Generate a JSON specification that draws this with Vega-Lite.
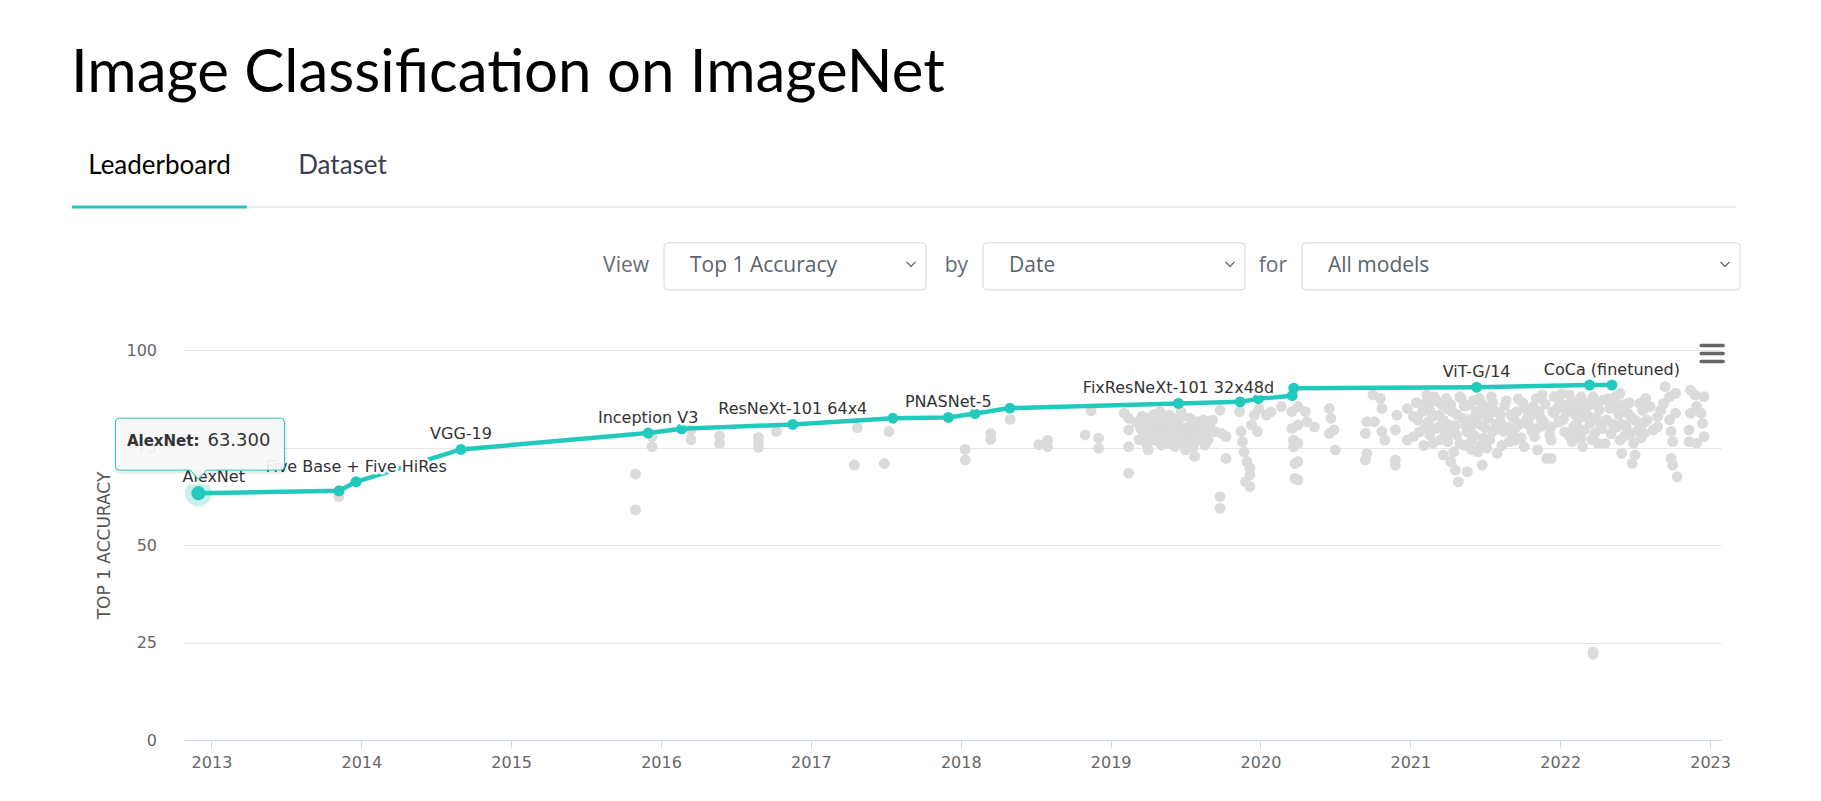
{
  "$schema": "https://vega.github.io/schema/vega-lite/v6.json",
  "autosize": {"type": "pad"},
  "padding": {"left": 65, "top": 44, "right": 81, "bottom": 20},
  "background": "white",
  "title": {"text": "Image Classification on ImageNet", "anchor": "start", "frame": "group", "font": "Lato", "fontSize": 60, "fontWeight": 400, "color": "#000000", "dx": -112, "offset": -2, "baseline": "alphabetic"},
  "config": {"view": {"stroke": null}, "font": "DejaVu Sans"},
  "datasets": {
    "tabs": [
      {"tab": "Leaderboard", "active": true},
      {"tab": "Dataset", "active": false}
    ],
    "controls": [
      {"label": "View", "value": "Top 1 Accuracy"},
      {"label": "by", "value": "Date"},
      {"label": "for", "value": "All models"}
    ],
    "sota": [
      {"year": 2012.913, "acc": 63.3, "label": "AlexNet"},
      {"year": 2013.851, "acc": 63.9},
      {"year": 2013.965, "acc": 66.2, "label": "Five Base + Five HiRes"},
      {"year": 2014.665, "acc": 74.5, "label": "VGG-19"},
      {"year": 2015.914, "acc": 78.7, "label": "Inception V3"},
      {"year": 2016.137, "acc": 79.8},
      {"year": 2016.879, "acc": 80.9, "label": "ResNeXt-101 64x4"},
      {"year": 2017.547, "acc": 82.5},
      {"year": 2017.917, "acc": 82.7, "label": "PNASNet-5"},
      {"year": 2018.095, "acc": 83.7},
      {"year": 2018.328, "acc": 85.1},
      {"year": 2019.453, "acc": 86.3, "label": "FixResNeXt-101 32x48d"},
      {"year": 2019.865, "acc": 86.7},
      {"year": 2019.985, "acc": 87.5},
      {"year": 2020.212, "acc": 88.3},
      {"year": 2020.222, "acc": 90.2},
      {"year": 2021.442, "acc": 90.45, "label": "ViT-G/14"},
      {"year": 2022.196, "acc": 91.0},
      {"year": 2022.345, "acc": 91.0, "label": "CoCa (finetuned)"}
    ],
    "others": [
      {"year": 2013.85, "acc": 62.4}, {"year": 2015.83, "acc": 68.2}, {"year": 2015.83, "acc": 59.0},
      {"year": 2015.94, "acc": 77.8}, {"year": 2015.94, "acc": 75.2}, {"year": 2016.2, "acc": 79.5},
      {"year": 2016.2, "acc": 77.0},
      {"year": 2016.39, "acc": 77.9}, {"year": 2016.39, "acc": 76.0}, {"year": 2016.65, "acc": 77.6},
      {"year": 2016.65, "acc": 76.4}, {"year": 2016.65, "acc": 75.0}, {"year": 2016.77, "acc": 79.1},
      {"year": 2017.29, "acc": 70.5}, {"year": 2017.31, "acc": 80.1}, {"year": 2017.49, "acc": 70.9},
      {"year": 2017.52, "acc": 79.1}, {"year": 2018.03, "acc": 74.5}, {"year": 2018.03, "acc": 71.8},
      {"year": 2018.2, "acc": 78.6}, {"year": 2018.2, "acc": 77.1}, {"year": 2018.33, "acc": 82.2},
      {"year": 2018.52, "acc": 75.7},
      {"year": 2018.58, "acc": 76.9}, {"year": 2018.58, "acc": 75.2}, {"year": 2018.83, "acc": 78.2},
      {"year": 2018.87, "acc": 84.4}, {"year": 2018.92, "acc": 77.4}, {"year": 2018.92, "acc": 74.8},
      {"year": 2019.09, "acc": 83.8}, {"year": 2019.12, "acc": 82.5}, {"year": 2019.12, "acc": 79.5},
      {"year": 2019.12, "acc": 75.2}, {"year": 2019.12, "acc": 68.4}, {"year": 2019.2, "acc": 79.9},
      {"year": 2019.22, "acc": 78.6}, {"year": 2019.25, "acc": 82.5}, {"year": 2019.27, "acc": 77.4},
      {"year": 2019.25, "acc": 74.4}, {"year": 2019.3, "acc": 81.6}, {"year": 2019.32, "acc": 79.5},
      {"year": 2019.33, "acc": 84.2}, {"year": 2019.34, "acc": 75.6}, {"year": 2019.37, "acc": 80.8},
      {"year": 2019.39, "acc": 83.3}, {"year": 2019.4, "acc": 78.2}, {"year": 2019.42, "acc": 82.5},
      {"year": 2019.43, "acc": 75.2}, {"year": 2019.44, "acc": 79.9}, {"year": 2019.47, "acc": 84.2},
      {"year": 2019.48, "acc": 76.5}, {"year": 2019.5, "acc": 74.4}, {"year": 2019.52, "acc": 78.2},
      {"year": 2019.56, "acc": 78.6}, {"year": 2019.56, "acc": 72.7}, {"year": 2019.58, "acc": 81.6},
      {"year": 2019.6, "acc": 79.9}, {"year": 2019.62, "acc": 82.1}, {"year": 2019.63, "acc": 75.6},
      {"year": 2019.64, "acc": 78.2}, {"year": 2019.66, "acc": 80.3}, {"year": 2019.73, "acc": 84.6},
      {"year": 2019.74, "acc": 78.6}, {"year": 2019.77, "acc": 77.8}, {"year": 2019.77, "acc": 72.2},
      {"year": 2019.73, "acc": 62.4}, {"year": 2019.73, "acc": 59.4}, {"year": 2019.86, "acc": 84.2},
      {"year": 2019.87, "acc": 79.1}, {"year": 2019.88, "acc": 76.5}, {"year": 2019.89, "acc": 73.9},
      {"year": 2019.91, "acc": 71.4}, {"year": 2019.93, "acc": 69.7}, {"year": 2019.93, "acc": 68.0},
      {"year": 2019.9, "acc": 66.2}, {"year": 2019.93, "acc": 65.0}, {"year": 2019.94, "acc": 80.8},
      {"year": 2019.96, "acc": 83.3}, {"year": 2019.98, "acc": 79.1}, {"year": 2019.99, "acc": 85.0},
      {"year": 2020.04, "acc": 83.3}, {"year": 2020.07, "acc": 84.2}, {"year": 2020.14, "acc": 85.5},
      {"year": 2020.21, "acc": 84.2}, {"year": 2020.21, "acc": 79.9}, {"year": 2020.22, "acc": 76.9},
      {"year": 2020.22, "acc": 75.2}, {"year": 2020.23, "acc": 70.9}, {"year": 2020.23, "acc": 67.1},
      {"year": 2019.23, "acc": 80.5}, {"year": 2019.28, "acc": 79.0}, {"year": 2019.35, "acc": 77.5},
      {"year": 2019.38, "acc": 79.0}, {"year": 2019.45, "acc": 81.0}, {"year": 2019.5, "acc": 80.0},
      {"year": 2019.53, "acc": 82.5}, {"year": 2019.46, "acc": 77.8}, {"year": 2019.41, "acc": 76.5},
      {"year": 2019.3, "acc": 76.8}, {"year": 2019.57, "acc": 76.6}, {"year": 2019.61, "acc": 77.5},
      {"year": 2019.17, "acc": 81.5}, {"year": 2019.19, "acc": 77.0}, {"year": 2019.21, "acc": 83.0},
      {"year": 2019.24, "acc": 76.0}, {"year": 2019.26, "acc": 80.0}, {"year": 2019.29, "acc": 83.5},
      {"year": 2019.31, "acc": 78.0}, {"year": 2019.33, "acc": 81.0}, {"year": 2019.36, "acc": 82.5},
      {"year": 2019.39, "acc": 76.0}, {"year": 2019.41, "acc": 80.0}, {"year": 2019.44, "acc": 77.5},
      {"year": 2019.48, "acc": 83.0}, {"year": 2019.49, "acc": 79.0}, {"year": 2019.51, "acc": 76.5},
      {"year": 2019.54, "acc": 80.5}, {"year": 2019.55, "acc": 75.0}, {"year": 2019.59, "acc": 78.0},
      {"year": 2019.62, "acc": 80.0}, {"year": 2019.65, "acc": 77.0}, {"year": 2019.68, "acc": 82.0},
      {"year": 2019.7, "acc": 79.0},
      {"year": 2020.25, "acc": 85.5}, {"year": 2020.25, "acc": 80.8}, {"year": 2020.25, "acc": 76.1},
      {"year": 2020.25, "acc": 71.4}, {"year": 2020.25, "acc": 66.7}, {"year": 2020.3, "acc": 84.2},
      {"year": 2020.31, "acc": 81.6}, {"year": 2020.36, "acc": 80.3}, {"year": 2020.46, "acc": 85.0},
      {"year": 2020.47, "acc": 82.5}, {"year": 2020.49, "acc": 79.5}, {"year": 2020.46, "acc": 78.6},
      {"year": 2020.5, "acc": 74.4}, {"year": 2020.7, "acc": 71.8}, {"year": 2020.71, "acc": 73.5},
      {"year": 2020.7, "acc": 78.6}, {"year": 2020.71, "acc": 81.6}, {"year": 2020.76, "acc": 81.6},
      {"year": 2020.81, "acc": 79.1}, {"year": 2020.83, "acc": 76.9}, {"year": 2020.9, "acc": 79.5},
      {"year": 2020.9, "acc": 71.8}, {"year": 2020.9, "acc": 70.5}, {"year": 2020.75, "acc": 88.5},
      {"year": 2020.8, "acc": 87.6}, {"year": 2020.81, "acc": 85.0}, {"year": 2020.91, "acc": 83.3},
      {"year": 2020.98, "acc": 85.0}, {"year": 2020.98, "acc": 76.9}, {"year": 2021.02, "acc": 77.8},
      {"year": 2021.08, "acc": 84.2}, {"year": 2021.1, "acc": 86.3}, {"year": 2021.11, "acc": 88.5},
      {"year": 2021.12, "acc": 81.6}, {"year": 2021.13, "acc": 78.2}, {"year": 2021.15, "acc": 76.1},
      {"year": 2021.17, "acc": 79.9}, {"year": 2021.19, "acc": 83.3}, {"year": 2021.21, "acc": 85.9},
      {"year": 2021.22, "acc": 73.1}, {"year": 2021.24, "acc": 87.6}, {"year": 2021.25, "acc": 76.5},
      {"year": 2021.26, "acc": 80.8}, {"year": 2021.27, "acc": 71.4}, {"year": 2021.28, "acc": 84.2},
      {"year": 2021.29, "acc": 73.9}, {"year": 2021.3, "acc": 69.2}, {"year": 2021.31, "acc": 78.2},
      {"year": 2021.32, "acc": 66.2}, {"year": 2021.34, "acc": 87.6}, {"year": 2021.35, "acc": 82.5},
      {"year": 2021.36, "acc": 75.6}, {"year": 2021.38, "acc": 68.8}, {"year": 2021.39, "acc": 85.9},
      {"year": 2021.4, "acc": 79.9}, {"year": 2021.41, "acc": 76.9}, {"year": 2021.44, "acc": 84.2},
      {"year": 2021.45, "acc": 73.9}, {"year": 2021.46, "acc": 87.6}, {"year": 2021.47, "acc": 80.8},
      {"year": 2021.48, "acc": 70.5}, {"year": 2021.49, "acc": 77.4}, {"year": 2021.5, "acc": 85.0},
      {"year": 2021.51, "acc": 74.8}, {"year": 2021.52, "acc": 82.5}, {"year": 2021.55, "acc": 79.1},
      {"year": 2021.57, "acc": 84.2}, {"year": 2021.58, "acc": 73.5}, {"year": 2021.6, "acc": 81.6},
      {"year": 2021.62, "acc": 79.1}, {"year": 2021.66, "acc": 76.5}, {"year": 2021.69, "acc": 82.5},
      {"year": 2021.7, "acc": 76.9}, {"year": 2021.71, "acc": 84.2}, {"year": 2021.76, "acc": 75.2},
      {"year": 2021.77, "acc": 85.0}, {"year": 2021.79, "acc": 80.8}, {"year": 2021.81, "acc": 79.1},
      {"year": 2021.84, "acc": 87.6}, {"year": 2021.85, "acc": 74.4}, {"year": 2021.86, "acc": 84.2},
      {"year": 2021.88, "acc": 88.5}, {"year": 2021.89, "acc": 81.6}, {"year": 2021.91, "acc": 72.2},
      {"year": 2021.93, "acc": 78.2}, {"year": 2021.95, "acc": 84.2},
      {"year": 2021.12, "acc": 86.0}, {"year": 2021.15, "acc": 83.0}, {"year": 2021.18, "acc": 86.8},
      {"year": 2021.22, "acc": 82.0}, {"year": 2021.25, "acc": 84.8}, {"year": 2021.28, "acc": 78.8},
      {"year": 2021.3, "acc": 80.6}, {"year": 2021.33, "acc": 76.0}, {"year": 2021.36, "acc": 85.6},
      {"year": 2021.38, "acc": 79.0}, {"year": 2021.4, "acc": 82.2}, {"year": 2021.42, "acc": 87.0},
      {"year": 2021.43, "acc": 78.0}, {"year": 2021.46, "acc": 83.5}, {"year": 2021.48, "acc": 86.0},
      {"year": 2021.5, "acc": 80.0}, {"year": 2021.53, "acc": 77.0}, {"year": 2021.55, "acc": 86.5},
      {"year": 2021.58, "acc": 79.8}, {"year": 2021.6, "acc": 83.4}, {"year": 2021.63, "acc": 85.8},
      {"year": 2021.65, "acc": 80.2}, {"year": 2021.68, "acc": 78.6}, {"year": 2021.73, "acc": 81.0},
      {"year": 2021.75, "acc": 86.5}, {"year": 2021.8, "acc": 83.0}, {"year": 2021.83, "acc": 77.8},
      {"year": 2021.88, "acc": 80.5}, {"year": 2021.9, "acc": 86.2}, {"year": 2021.2, "acc": 77.0},
      {"year": 2021.1, "acc": 80.0}, {"year": 2021.05, "acc": 82.0},
      {"year": 2021.02, "acc": 83.0}, {"year": 2021.04, "acc": 86.5}, {"year": 2021.06, "acc": 79.0},
      {"year": 2021.09, "acc": 75.5}, {"year": 2021.13, "acc": 84.5}, {"year": 2021.16, "acc": 88.0},
      {"year": 2021.2, "acc": 80.5}, {"year": 2021.23, "acc": 79.0}, {"year": 2021.27, "acc": 86.0},
      {"year": 2021.31, "acc": 83.5}, {"year": 2021.33, "acc": 88.0}, {"year": 2021.37, "acc": 80.5},
      {"year": 2021.41, "acc": 74.5}, {"year": 2021.44, "acc": 81.5}, {"year": 2021.47, "acc": 75.5},
      {"year": 2021.52, "acc": 84.0}, {"year": 2021.54, "acc": 88.0}, {"year": 2021.57, "acc": 81.0},
      {"year": 2021.61, "acc": 75.5}, {"year": 2021.64, "acc": 87.0}, {"year": 2021.67, "acc": 83.5},
      {"year": 2021.7, "acc": 80.0}, {"year": 2021.72, "acc": 87.5}, {"year": 2021.74, "acc": 77.5},
      {"year": 2021.78, "acc": 82.5}, {"year": 2021.82, "acc": 85.5}, {"year": 2021.85, "acc": 80.0},
      {"year": 2021.87, "acc": 82.5},
      {"year": 2021.96, "acc": 88.0}, {"year": 2021.96, "acc": 83.8}, {"year": 2021.94, "acc": 80.3},
      {"year": 2021.94, "acc": 76.9}, {"year": 2021.94, "acc": 72.2}, {"year": 2022.0, "acc": 86.3},
      {"year": 2022.02, "acc": 82.1}, {"year": 2022.06, "acc": 88.5}, {"year": 2022.07, "acc": 84.6},
      {"year": 2022.09, "acc": 80.3}, {"year": 2022.14, "acc": 88.0}, {"year": 2022.15, "acc": 82.9},
      {"year": 2022.14, "acc": 77.4}, {"year": 2022.15, "acc": 75.2}, {"year": 2022.18, "acc": 86.3},
      {"year": 2022.2, "acc": 81.2}, {"year": 2022.23, "acc": 78.6}, {"year": 2022.25, "acc": 76.1},
      {"year": 2022.26, "acc": 84.6}, {"year": 2022.29, "acc": 87.2}, {"year": 2022.31, "acc": 82.1},
      {"year": 2022.36, "acc": 85.5}, {"year": 2022.38, "acc": 80.3}, {"year": 2022.4, "acc": 88.9},
      {"year": 2022.4, "acc": 76.9}, {"year": 2022.41, "acc": 73.5}, {"year": 2022.45, "acc": 83.8},
      {"year": 2022.47, "acc": 78.6}, {"year": 2022.49, "acc": 76.1}, {"year": 2022.48, "acc": 70.9},
      {"year": 2022.5, "acc": 73.1}, {"year": 2022.53, "acc": 86.3}, {"year": 2022.55, "acc": 81.2},
      {"year": 2022.57, "acc": 87.6}, {"year": 2022.56, "acc": 78.6}, {"year": 2022.65, "acc": 82.9},
      {"year": 2022.65, "acc": 80.3}, {"year": 2022.7, "acc": 90.6}, {"year": 2022.73, "acc": 88.0},
      {"year": 2022.69, "acc": 86.3}, {"year": 2022.73, "acc": 82.1}, {"year": 2022.74, "acc": 79.1},
      {"year": 2022.75, "acc": 76.5}, {"year": 2022.74, "acc": 72.2}, {"year": 2022.75, "acc": 70.5},
      {"year": 2022.78, "acc": 67.5}, {"year": 2022.77, "acc": 88.9}, {"year": 2022.77, "acc": 83.8},
      {"year": 2022.87, "acc": 89.7}, {"year": 2022.87, "acc": 83.8}, {"year": 2022.86, "acc": 79.5},
      {"year": 2022.86, "acc": 76.5}, {"year": 2022.9, "acc": 88.5}, {"year": 2022.91, "acc": 85.5},
      {"year": 2022.91, "acc": 76.1}, {"year": 2022.95, "acc": 81.2}, {"year": 2022.96, "acc": 77.8},
      {"year": 2022.96, "acc": 88.0}, {"year": 2022.94, "acc": 83.8},
      {"year": 2021.98, "acc": 85.0}, {"year": 2022.03, "acc": 79.0}, {"year": 2022.05, "acc": 86.0},
      {"year": 2022.1, "acc": 83.5}, {"year": 2022.12, "acc": 78.5}, {"year": 2022.17, "acc": 84.0},
      {"year": 2022.22, "acc": 88.0}, {"year": 2022.24, "acc": 82.5}, {"year": 2022.28, "acc": 79.8},
      {"year": 2022.33, "acc": 85.0}, {"year": 2022.35, "acc": 81.0}, {"year": 2022.42, "acc": 86.0},
      {"year": 2022.44, "acc": 80.5}, {"year": 2022.47, "acc": 83.0}, {"year": 2022.52, "acc": 79.5},
      {"year": 2022.08, "acc": 76.5}, {"year": 2022.3, "acc": 76.0}, {"year": 2022.12, "acc": 87.0},
      {"year": 2022.37, "acc": 88.0}, {"year": 2022.43, "acc": 78.0}, {"year": 2022.55, "acc": 84.5},
      {"year": 2022.58, "acc": 82.0}, {"year": 2022.2, "acc": 86.0},
      {"year": 2021.99, "acc": 81.5}, {"year": 2022.01, "acc": 88.8}, {"year": 2022.04, "acc": 84.0},
      {"year": 2022.06, "acc": 78.0}, {"year": 2022.09, "acc": 86.0}, {"year": 2022.11, "acc": 81.0},
      {"year": 2022.13, "acc": 85.0}, {"year": 2022.16, "acc": 79.5}, {"year": 2022.19, "acc": 83.0},
      {"year": 2022.21, "acc": 77.0}, {"year": 2022.25, "acc": 86.5}, {"year": 2022.27, "acc": 80.5},
      {"year": 2022.32, "acc": 87.5}, {"year": 2022.34, "acc": 78.5}, {"year": 2022.39, "acc": 83.5},
      {"year": 2022.41, "acc": 81.0}, {"year": 2022.46, "acc": 86.5}, {"year": 2022.5, "acc": 82.0},
      {"year": 2022.54, "acc": 77.5}, {"year": 2022.6, "acc": 85.5}, {"year": 2022.62, "acc": 79.5},
      {"year": 2022.67, "acc": 84.5},
      {"year": 2022.22, "acc": 22.0}, {"year": 2022.22, "acc": 22.6}
    ]
  },
  "vconcat": [
    {
      "width": 1557,
      "height": 140,
      "layer": [
        {
          "data": {"name": "tabs"},
          "transform": [{"filter": "datum.active"}],
          "mark": {"type": "point", "shape": "M-87.5,41 H1576.5", "size": 4, "filled": false, "stroke": "#e3e3ea", "strokeWidth": 1.5, "opacity": 1},
          "encoding": {
            "x": {"field": "tab", "type": "nominal", "scale": {"type": "point", "domain": ["Leaderboard", "Dataset"], "range": [-23.5, 159.5], "padding": 0}, "axis": null},
            "y": {"datum": "tabs", "type": "nominal", "scale": {"type": "point", "domain": ["tabs", "controls"], "range": [16, 116.4], "padding": 0}, "axis": null}
          }
        },
        {
          "data": {"name": "tabs"},
          "transform": [{"filter": "datum.active"}],
          "mark": {"type": "point", "shape": "M-87.5,41 H87.5", "size": 4, "filled": false, "stroke": "#22c9bd", "strokeWidth": 3.2, "opacity": 1},
          "encoding": {
            "x": {"field": "tab", "type": "nominal", "scale": {"type": "point", "domain": ["Leaderboard", "Dataset"], "range": [-23.5, 159.5], "padding": 0}, "axis": null},
            "y": {"datum": "tabs", "type": "nominal", "scale": {"type": "point", "domain": ["tabs", "controls"], "range": [16, 116.4], "padding": 0}, "axis": null}
          }
        },
        {
          "data": {"name": "tabs"},
          "mark": {"type": "text", "font": "Lato", "fontSize": 26, "align": "center", "baseline": "middle"},
          "encoding": {
            "x": {"field": "tab", "type": "nominal", "scale": {"type": "point", "domain": ["Leaderboard", "Dataset"], "range": [-23.5, 159.5], "padding": 0}, "axis": null},
            "y": {"datum": "tabs", "type": "nominal", "scale": {"type": "point", "domain": ["tabs", "controls"], "range": [16, 116.4], "padding": 0}, "axis": null},
            "text": {"field": "tab"},
            "color": {"condition": {"test": "datum.active", "value": "#000000"}, "value": "#3c3c50"}
          }
        },
        {
          "data": {"name": "controls"},
          "transform": [{"filter": "datum.value != 'All models'"}],
          "mark": {"type": "point", "shape": "M4,-23.5 H258 Q262,-23.5 262,-19.5 V19.5 Q262,23.5 258,23.5 H4 Q0,23.5 0,19.5 V-19.5 Q0,-23.5 4,-23.5 Z", "size": 4, "filled": false, "stroke": "#d3d6db", "strokeWidth": 1, "opacity": 1},
          "encoding": {
            "x": {"field": "value", "type": "nominal", "scale": {"type": "point", "domain": ["Top 1 Accuracy", "Date", "All models"], "range": [481, 1119], "padding": 0}, "axis": null},
            "y": {"datum": "controls", "type": "nominal", "scale": {"type": "point", "domain": ["tabs", "controls"], "range": [16, 116.4], "padding": 0}, "axis": null}
          }
        },
        {
          "data": {"name": "controls"},
          "transform": [{"filter": "datum.value == 'All models'"}],
          "mark": {"type": "point", "shape": "M4,-23.5 H434 Q438,-23.5 438,-19.5 V19.5 Q438,23.5 434,23.5 H4 Q0,23.5 0,19.5 V-19.5 Q0,-23.5 4,-23.5 Z", "size": 4, "filled": false, "stroke": "#d3d6db", "strokeWidth": 1, "opacity": 1},
          "encoding": {
            "x": {"field": "value", "type": "nominal", "scale": {"type": "point", "domain": ["Top 1 Accuracy", "Date", "All models"], "range": [481, 1119], "padding": 0}, "axis": null},
            "y": {"datum": "controls", "type": "nominal", "scale": {"type": "point", "domain": ["tabs", "controls"], "range": [16, 116.4], "padding": 0}, "axis": null}
          }
        },
        {
          "data": {"name": "controls"},
          "transform": [{"filter": "datum.value != 'All models'"}],
          "mark": {"type": "point", "shape": "M242.5,-4.5 L247,0 L251.5,-4.5", "size": 4, "filled": false, "stroke": "#555b62", "strokeWidth": 1.3, "opacity": 1},
          "encoding": {
            "x": {"field": "value", "type": "nominal", "scale": {"type": "point", "domain": ["Top 1 Accuracy", "Date", "All models"], "range": [481, 1119], "padding": 0}, "axis": null},
            "y": {"datum": "controls", "type": "nominal", "scale": {"type": "point", "domain": ["tabs", "controls"], "range": [16, 116.4], "padding": 0}, "axis": null}
          }
        },
        {
          "data": {"name": "controls"},
          "transform": [{"filter": "datum.value == 'All models'"}],
          "mark": {"type": "point", "shape": "M418.5,-4.5 L423,0 L427.5,-4.5", "size": 4, "filled": false, "stroke": "#555b62", "strokeWidth": 1.3, "opacity": 1},
          "encoding": {
            "x": {"field": "value", "type": "nominal", "scale": {"type": "point", "domain": ["Top 1 Accuracy", "Date", "All models"], "range": [481, 1119], "padding": 0}, "axis": null},
            "y": {"datum": "controls", "type": "nominal", "scale": {"type": "point", "domain": ["tabs", "controls"], "range": [16, 116.4], "padding": 0}, "axis": null}
          }
        },
        {
          "data": {"name": "controls"},
          "mark": {"type": "text", "font": "Open Sans", "fontSize": 21, "align": "right", "baseline": "middle", "dx": -15, "color": "#656d76"},
          "encoding": {
            "x": {"field": "value", "type": "nominal", "scale": {"type": "point", "domain": ["Top 1 Accuracy", "Date", "All models"], "range": [481, 1119], "padding": 0}, "axis": null},
            "y": {"datum": "controls", "type": "nominal", "scale": {"type": "point", "domain": ["tabs", "controls"], "range": [16, 116.4], "padding": 0}, "axis": null},
            "text": {"field": "label"}
          }
        },
        {
          "data": {"name": "controls"},
          "mark": {"type": "text", "font": "Open Sans", "fontSize": 21, "align": "left", "baseline": "middle", "dx": 26, "color": "#5a626b"},
          "encoding": {
            "x": {"field": "value", "type": "nominal", "scale": {"type": "point", "domain": ["Top 1 Accuracy", "Date", "All models"], "range": [481, 1119], "padding": 0}, "axis": null},
            "y": {"datum": "controls", "type": "nominal", "scale": {"type": "point", "domain": ["tabs", "controls"], "range": [16, 116.4], "padding": 0}, "axis": null},
            "text": {"field": "value"}
          }
        }
      ],
      "resolve": {"scale": {"x": "independent"}}
    },
    {
      "width": 1538,
      "height": 390,
      "encoding": {
        "x": {
          "field": "year", "type": "quantitative",
          "scale": {"domain": [2012.81, 2023.073], "nice": false, "zero": false},
          "axis": {"values": [2013, 2014, 2015, 2016, 2017, 2018, 2019, 2020, 2021, 2022, 2023], "format": "d", "grid": false, "domainColor": "#ccd6eb", "tickColor": "#ccd6eb", "tickSize": 8, "labelPadding": 6, "labelFont": "DejaVu Sans", "labelFontSize": 16, "labelColor": "#666666", "labelFlush": false, "title": null}
        },
        "y": {
          "field": "acc", "type": "quantitative",
          "scale": {"domain": [0, 100], "nice": false},
          "axis": {"values": [0, 25, 50, 75, 100], "grid": true, "gridColor": "#e6e6e6", "domain": false, "ticks": false, "labelPadding": 26.5, "labelFont": "DejaVu Sans", "labelFontSize": 16, "labelColor": "#666666", "title": "TOP 1 ACCURACY", "titleFont": "DejaVu Sans", "titleFontSize": 17, "titleFontWeight": "normal", "titleColor": "#555555", "titlePadding": 12.5}
        }
      },
      "layer": [
        {"data": {"name": "others"}, "mark": {"type": "circle", "size": 118, "color": "#dbdbdb", "opacity": 1}},
        {"data": {"name": "sota"}, "mark": {"type": "line", "color": "#22c9bd", "strokeWidth": 4.5}, "encoding": {"order": {"field": "year"}}},
        {"data": {"name": "sota"}, "mark": {"type": "circle", "size": 120, "color": "#22c9bd", "opacity": 1}},
        {"data": {"name": "sota"}, "transform": [{"filter": "datum.label == 'AlexNet'"}], "mark": {"type": "circle", "size": 700, "color": "#22c9bd", "opacity": 0.25}},
        {"data": {"name": "sota"}, "transform": [{"filter": "datum.label == 'AlexNet'"}], "mark": {"type": "circle", "size": 200, "color": "#22c9bd", "opacity": 1}},
        {"data": {"name": "sota"}, "transform": [{"filter": "datum.label && datum.label != 'AlexNet'"}], "mark": {"type": "text", "fontSize": 16, "baseline": "middle", "dy": -15, "fill": "white", "stroke": "white", "strokeWidth": 5, "strokeJoin": "round"}, "encoding": {"text": {"field": "label"}}},
        {"data": {"name": "sota"}, "transform": [{"filter": "datum.label && datum.label != 'AlexNet'"}], "mark": {"type": "text", "fontSize": 16, "baseline": "middle", "dy": -15, "fill": "#333333"}, "encoding": {"text": {"field": "label"}}},
        {"data": {"name": "sota"}, "transform": [{"filter": "datum.label == 'AlexNet'"}], "mark": {"type": "text", "fontSize": 16, "align": "left", "baseline": "middle", "dx": -16, "dy": -16, "fill": "white", "stroke": "white", "strokeWidth": 5, "strokeJoin": "round"}, "encoding": {"text": {"field": "label"}}},
        {"data": {"name": "sota"}, "transform": [{"filter": "datum.label == 'AlexNet'"}], "mark": {"type": "text", "fontSize": 16, "align": "left", "baseline": "middle", "dx": -16, "dy": -16, "fill": "#333333"}, "encoding": {"text": {"field": "label"}}},
        {"data": {"name": "sota"}, "transform": [{"filter": "datum.label == 'AlexNet'"}], "mark": {"type": "point", "shape": "M-78,-73 H83 Q87,-73 87,-69 V-25 Q87,-21 83,-21 H9 L1,-12 L-7,-21 H-78 Q-82,-21 -82,-25 V-69 Q-82,-73 -78,-73 Z", "size": 4, "filled": false, "stroke": "#000000", "strokeOpacity": 0.08, "strokeWidth": 3, "opacity": 1}},
        {"data": {"name": "sota"}, "transform": [{"filter": "datum.label == 'AlexNet'"}], "mark": {"type": "point", "shape": "M-79,-75 H82 Q86,-75 86,-71 V-27 Q86,-23 82,-23 H8 L0,-14 L-8,-23 H-79 Q-83,-23 -83,-27 V-71 Q-83,-75 -79,-75 Z", "size": 4, "filled": true, "fill": "#f7f7f7", "fillOpacity": 0.92, "stroke": "#22c9bd", "strokeWidth": 1, "opacity": 1}},
        {"data": {"name": "sota"}, "transform": [{"filter": "datum.label == 'AlexNet'"}], "mark": {"type": "text", "fontSize": 15, "fontWeight": "bold", "align": "left", "baseline": "middle", "dx": -71.5, "dy": -52, "fill": "#333333", "text": {"expr": "datum.label + ':'"}}},
        {"data": {"name": "sota"}, "transform": [{"filter": "datum.label == 'AlexNet'"}], "mark": {"type": "text", "fontSize": 18, "align": "left", "baseline": "middle", "dx": 9, "dy": -52, "fill": "#333333"}, "encoding": {"text": {"field": "acc", "format": ".3f"}}},
        {"data": {"name": "sota"}, "transform": [{"filter": "datum.label == 'CoCa (finetuned)'"}], "mark": {"type": "point", "shape": "M-11,-8 H11 M-11,0 H11 M-11,8 H11", "size": 4, "filled": false, "stroke": "#666666", "strokeWidth": 3.5, "strokeCap": "round", "opacity": 1}, "encoding": {"x": {"datum": 2023.014, "type": "quantitative"}, "y": {"datum": 99.1, "type": "quantitative"}}}
      ]
    }
  ],
  "spacing": 60,
  "bounds": "flush"
}
